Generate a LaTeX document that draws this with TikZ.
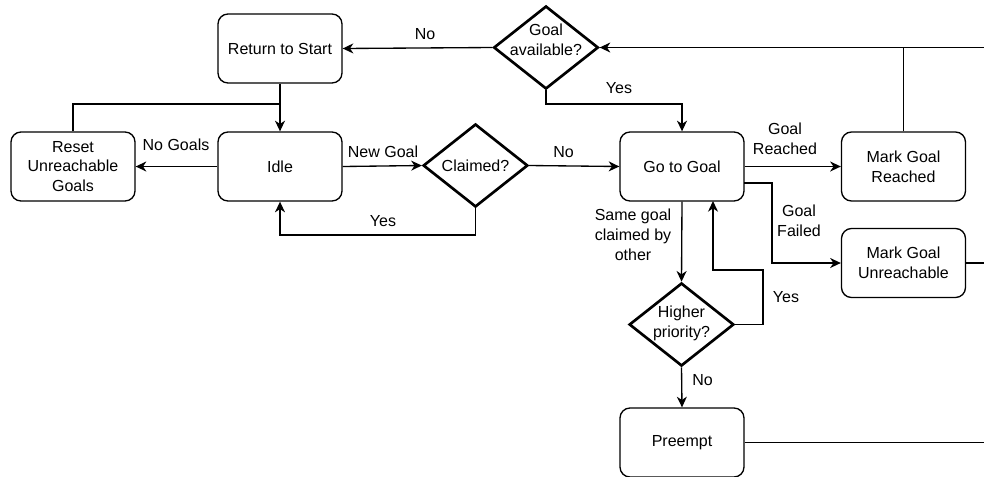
\documentclass[tikz,border=0pt]{standalone}
\usepackage{fontspec}
\setmainfont{Liberation Sans}
\usetikzlibrary{shapes.geometric,arrows.meta}
\newcommand\dgfont{\fontsize{12pt}{14.8pt}\selectfont}
\begin{document}
\begin{tikzpicture}[x=0.75pt,y=-0.75pt,
  box/.style={draw,rounded corners=7.5pt,line width=1pt,minimum width=93pt,minimum height=51.75pt,inner sep=0pt,align=center,font=\dgfont},
  dia/.style={draw,diamond,line width=2pt,minimum width=78.5pt,minimum height=62.25pt,inner sep=0pt},
  txt/.style={align=center,inner sep=0pt,font=\dgfont},
  line/.style={line width=1pt},
  edge/.style={line width=1pt,-{Stealth[length=8pt,width=7.5pt,inset=2.5pt]}}]
\useasboundingbox (0,0) rectangle (984,476);
\clip (0,0) rectangle (984,476);
% nodes
\node[box] (rts) at (280,48.5) {Return to Start};
\node[box] (idle) at (280,166.5) {Idle};
\node[box] (reset) at (73,166.5) {Reset\\Unreachable\\Goals};
\node[box] (gtg) at (682,166.5) {Go to Goal};
\node[box] (mgr) at (903.5,166.5) {Mark Goal\\Reached};
\node[box] (mgu) at (903.5,263) {Mark Goal\\Unreachable};
\node[box] (pre) at (682,442.5) {Preempt};
\node[dia] (ga) at (546,47.5) {};
\node[txt] at (546,39.5) {Goal\\available?};
\node[dia] (cl) at (475.5,165.5) {};
\node[txt] at (475.5,166) {Claimed?};
\node[dia] (hp) at (681.5,324.5) {};
\node[txt] at (681.5,323.5) {Higher\\priority?};
% coordinates
\coordinate (j1) at (280,104);
\coordinate (gf) at (744,183);
\coordinate (gy) at (713,201);
\coordinate (tr) at (1000,47.5);
% edges
\draw[edge] (rts.south) -- (idle.north);
\draw[line] (reset.north) |- (j1);
\draw[edge] (idle.west) -- (reset.east);
\draw[edge] (idle.east) -- (cl.west);
\draw[edge] (cl.south) -- (475.5,235) -| (idle.south);
\draw[edge] (cl.east) -- (gtg.west);
\draw[edge] (ga.west) -- (rts.east);
\draw[edge] (ga.south) -- (546,104) -| (gtg.north);
\draw[edge] (gtg.east) -- (mgr.west);
\draw[edge] (gf) -- (772,183) |- (mgu.west);
\draw[edge] (gtg.south) -- (hp.north);
\draw[edge] (hp.east) -- (763,324.5) -- (763,270) -| (gy);
\draw[edge] (hp.south) -- (pre.north);
\draw[line] (mgr.north) -- (mgr.north |- ga.east);
\draw[line] (mgu.east) -| (tr);
\draw[edge] (pre.east) -| (tr) -- (ga.east);
% labels
\node[txt] at (425,34) {No};
\node[txt] at (176,145) {No Goals};
\node[txt] at (383,152) {New Goal};
\node[txt] at (383,221) {Yes};
\node[txt] at (619,88) {Yes};
\node[txt] at (563.5,152) {No};
\node[txt] at (785,138.5) {Goal\\Reached};
\node[txt] at (799,221) {Goal\\Failed};
\node[txt] at (633,235) {Same goal\\claimed by\\other};
\node[txt] at (786,297) {Yes};
\node[txt] at (702.5,380) {No};
\end{tikzpicture}
\end{document}
